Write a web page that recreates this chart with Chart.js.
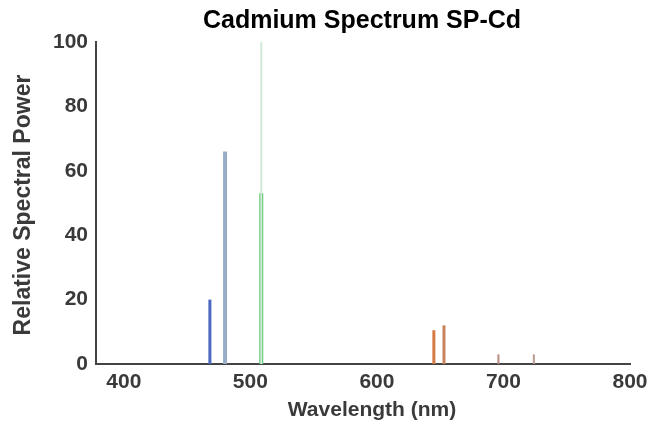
<!DOCTYPE html>
<html lang="en">
<head>
<meta charset="UTF-8">
<title>Cadmium Spectrum SP-Cd</title>
<style>
  body { margin: 0; background: #fff; }
</style>
</head>
<body>
<canvas id="myChart" width="665" height="424"></canvas>
<script src="https://cdn.jsdelivr.net/npm/chart.js"></script>
<script>
// emission lines (nm, relative power)
const wavelengths = [468, 480, 480, 508.6, 508.6, 645, 653, 696, 724]
const peaks = [20, 66, 10, 100, 53, 10.5, 12, 3, 3]
const lineColors = ['#4a68c0', '#97adc8', '#4f78b0', '#d2ead8', '#5cc66e', '#d67a45', '#c9835a', '#b88a80', '#b89a90']
const lineWidths = [3, 4, 2, 2, 4, 3, 3, 2, 2]
const xTicks = [400, 500, 600, 700, 800]
const yTicks = [0, 20, 40, 60, 80, 100]

const datasets = []
for (let i = 0; i < wavelengths.length; i++) {
  datasets.push({
    data: [{x: wavelengths[i], y: 0}, {x: wavelengths[i], y: peaks[i]}],
    borderColor: lineColors[i],
    borderWidth: lineWidths[i],
    showLine: true,
    pointRadius: 0
  })
}

const fontFamily = '"Liberation Sans", Arial, sans-serif'

// title and axis titles drawn by hand so they sit where the original has them
const textPlugin = {
  id: 'texts',
  afterDraw(chart) {
    const ctx = chart.ctx
    ctx.save()
    ctx.textAlign = 'center'
    ctx.textBaseline = 'middle'
    ctx.fillStyle = '#000'
    ctx.font = 'bold 25px ' + fontFamily
    ctx.fillText('Cadmium Spectrum SP-Cd', 362, 21)
    ctx.fillStyle = '#3a3a3a'
    ctx.font = 'bold 21px ' + fontFamily
    ctx.fillText('Wavelength (nm)', 372, 410)
    ctx.font = 'bold 23px ' + fontFamily
    ctx.translate(24, 205)
    ctx.rotate(-Math.PI / 2)
    ctx.fillText('Relative Spectral Power', 0, 0)
    ctx.restore()
  }
}

const tickFont = { family: fontFamily, size: 21, weight: 'bold' }

new Chart(document.querySelector('#myChart'), {
  type: 'scatter',
  data: { datasets: datasets },
  options: {
    responsive: false,
    animation: false,
    layout: { padding: { top: 42, right: 35, left: 0, bottom: 0 } },
    plugins: { legend: { display: false }, tooltip: { enabled: false } },
    scales: {
      x: {
        type: 'linear',
        min: 378,
        max: 800,
        afterBuildTicks: axis => { axis.ticks = xTicks.map(v => ({ value: v })) },
        afterFit: scale => { scale.height = 60 },
        grid: { display: false, drawTicks: true, tickLength: 5, color: '#444' },
        border: { color: '#444', width: 2 },
        ticks: { color: '#3a3a3a', font: tickFont, padding: 1, maxRotation: 0 },
        title: { display: false }
      },
      y: {
        min: 0,
        max: 100,
        afterBuildTicks: axis => { axis.ticks = yTicks.map(v => ({ value: v })) },
        afterFit: scale => { scale.width = 96 },
        grid: { display: false, drawTicks: true, tickLength: 5, color: '#444' },
        border: { color: '#444', width: 2 },
        ticks: { color: '#3a3a3a', font: tickFont, padding: 3 },
        title: { display: false }
      }
    }
  },
  plugins: [textPlugin]
})
</script>
</body>
</html>
